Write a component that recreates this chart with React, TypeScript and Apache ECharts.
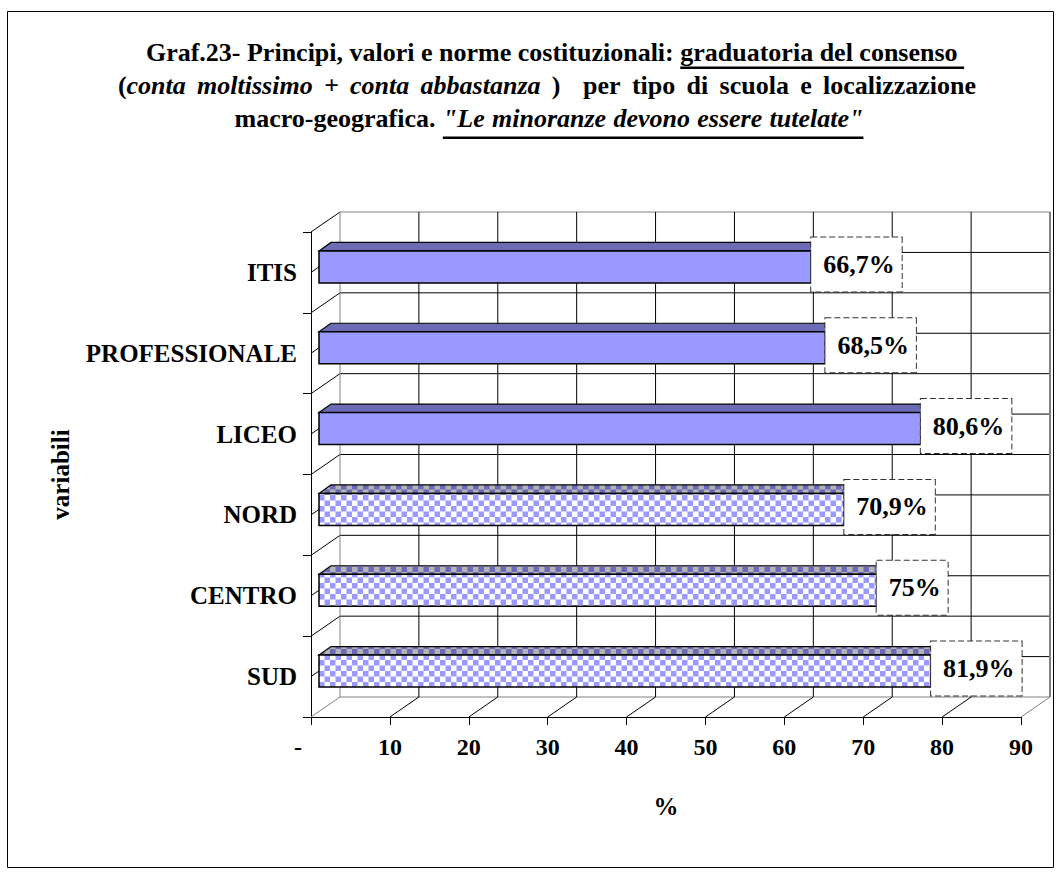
import React, { useEffect, useRef } from 'react';
import * as echarts from 'echarts';

// ---------- data ----------
const categories = ['ITIS', 'PROFESSIONALE', 'LICEO', 'NORD', 'CENTRO', 'SUD'];
const values = [66.7, 68.5, 80.6, 70.9, 75, 81.9];
const groups = ['scuola', 'scuola', 'scuola', 'area', 'area', 'area'];
const xTicks = [0, 10, 20, 30, 40, 50, 60, 70, 80, 90];
const xTickLabels = ['-', '10', '20', '30', '40', '50', '60', '70', '80', '90'];
const xAxisTitle = '%';
const yAxisTitle = 'variabili';

type Seg = { t: string; italic?: boolean; underline?: boolean };
const titleLines: Seg[][] = [
  [
    { t: 'Graf.23- Principi, valori e norme costituzionali: ' },
    { t: 'graduatoria del consenso ', underline: true },
  ],
  [
    { t: '(' },
    { t: 'conta moltissimo + conta abbastanza', italic: true },
    { t: ' )' },
    { t: '  per tipo di scuola e localizzazione' },
  ],
  [
    { t: 'macro-geografica. ' },
    { t: '"Le minoranze devono essere tutelate"', italic: true, underline: true },
  ],
];

// ---------- style ----------
const SERIF = '"Liberation Serif", "Times New Roman", Times, serif';
const SOLID_FRONT = '#9999FF';
const SOLID_TOP = '#6C6CB6';
const CHECK_FRONT = ['#9999FF', '#FFFFFF'];
const CHECK_TOP = ['#6A6AB8', '#B4B4B4'];
const WALL_GRAY = '#808080';
const DEPTH = { dx: 29, dy: -20 };
const BAR = { x0: 8, endShift: -26, dy: -5.5, ratio: 0.396, topDx: 12, topDy: -8.5 };
const TITLE_FS = 26;
const TITLE_CX = [555, 547, 549];
const TITLE_BASELINES = [61, 94, 127];
const TITLE_UNDERLINE_GAP = [5.5, 8, 9.5];
const TITLE_SPACE_EXTRA = [0, 4.8, 0.8];

function makeChecker(c1: string, c2: string, cell: number) {
  const px = 4; // canvas oversampling
  const cv = document.createElement('canvas');
  cv.width = cell * 2 * px;
  cv.height = cell * 2 * px;
  const g = cv.getContext('2d')!;
  const s = cell * px;
  g.fillStyle = c2;
  g.fillRect(0, 0, s * 2, s * 2);
  g.fillStyle = c1;
  g.fillRect(0, 0, s, s);
  g.fillRect(s, s, s, s);
  return { image: cv, repeat: 'repeat', imageWidth: cell * 2, imageHeight: cell * 2 };
}

function formatPct(v: number) {
  return (Number.isInteger(v) ? String(v) : v.toFixed(1).replace('.', ',')) + '%';
}

function buildTitle(): any[] {
  const ctx = document.createElement('canvas').getContext('2d')!;
  const fontOf = (it?: boolean) => `${it ? 'italic ' : ''}bold ${TITLE_FS}px ${SERIF}`;
  const els: any[] = [];
  titleLines.forEach((line, li) => {
    const extra = TITLE_SPACE_EXTRA[li];
    const layout = (startX: number, emit: boolean) => {
      let x = startX;
      const base = TITLE_BASELINES[li];
      const yMid = base - 0.3375 * TITLE_FS;
      line.forEach((s) => {
        ctx.font = fontOf(s.italic);
        const segStart = x;
        const spaceW = ctx.measureText(' ').width + extra;
        s.t.split(' ').forEach((word, wi) => {
          if (wi > 0) x += spaceW;
          if (!word) return;
          if (emit) {
            els.push({
              type: 'text',
              silent: true,
              style: {
                text: word,
                x,
                y: yMid,
                fontFamily: SERIF,
                fontSize: TITLE_FS,
                fontWeight: 'bold',
                fontStyle: s.italic ? 'italic' : 'normal',
                fill: '#000',
                align: 'left',
                verticalAlign: 'middle',
                textAlign: 'left',
                textVerticalAlign: 'middle',
              },
            });
          }
          x += ctx.measureText(word).width;
        });
        if (emit && s.underline) {
          els.push({
            type: 'rect',
            silent: true,
            shape: { x: segStart, y: base + TITLE_UNDERLINE_GAP[li], width: x - segStart, height: 2.5 },
            style: { fill: '#000' },
          });
        }
      });
      return x - startX;
    };
    const total = layout(0, false);
    layout(TITLE_CX[li] - total / 2, true);
  });
  return els;
}

export default function App() {
  const ref = useRef<HTMLDivElement>(null);
  useEffect(() => {
    const chart = echarts.init(ref.current!, null, { renderer: 'svg' });
    const checkFront = makeChecker(CHECK_FRONT[0], CHECK_FRONT[1], 5.5);
    const checkTop = makeChecker(CHECK_TOP[0], CHECK_TOP[1], 5.5);

    const renderFrame = (_params: any, api: any) => {
      const band = api.size([0, 1])[1];
      const n = categories.length;
      const first = api.coord([0, 0]);
      const yTop = first[1] - band / 2;
      const yBot = yTop + band * n;
      const xL = api.coord([xTicks[0], 0])[0];
      const xR = api.coord([xTicks[xTicks.length - 1], 0])[0];
      const { dx, dy } = DEPTH;
      const kids: any[] = [];
      const ln = (x1: number, y1: number, x2: number, y2: number, stroke: string, lw = 1) =>
        kids.push({ type: 'line', silent: true, shape: { x1, y1, x2, y2 }, style: { stroke, lineWidth: lw } });
      for (let k = 0; k <= 2 * n; k++) {
        const y = yTop + (k * band) / 2;
        const edge = k === 0 || k === 2 * n;
        ln(xL + dx, y + dy, xR + dx, y + dy, edge ? WALL_GRAY : '#000');
        if (k < 2 * n) ln(xL, y, xL + dx, y + dy, '#000');
      }
      xTicks.forEach((v, i) => {
        const x = api.coord([v, 0])[0];
        const last = i === xTicks.length - 1;
        const edge = i === 0 || last;
        ln(x + dx, yTop + dy, x + dx, yBot + dy, edge ? WALL_GRAY : '#000', last ? 2 : 1);
        ln(x, yBot, x + dx, yBot + dy, edge ? WALL_GRAY : '#000');
      });
      return { type: 'group', children: kids };
    };

    const renderBar = (params: any, api: any) => {
      const idx = params.dataIndex;
      const v = api.value(0);
      const c = api.value(1);
      const p0 = api.coord([0, c]);
      const p1 = api.coord([v, c]);
      const band = api.size([0, 1])[1];
      const h = band * BAR.ratio;
      const xs = p0[0] + BAR.x0;
      const xe = p1[0] + BAR.endShift;
      const cy = p0[1] + BAR.dy;
      const top = cy - h / 2;
      const pat = groups[idx] === 'area';
      return {
        type: 'group',
        children: [
          {
            type: 'polygon',
            shape: {
              points: [
                [xs, top],
                [xs + BAR.topDx, top + BAR.topDy],
                [xe + BAR.topDx, top + BAR.topDy],
                [xe, top],
              ],
            },
            style: { fill: pat ? checkTop : SOLID_TOP, stroke: '#000', lineWidth: 1.2 },
          },
          {
            type: 'rect',
            shape: { x: xs, y: top, width: xe - xs, height: h },
            style: { fill: pat ? checkFront : SOLID_FRONT, stroke: '#000', lineWidth: 1.5 },
          },
          {
            type: 'text',
            style: {
              text: formatPct(values[idx]),
              x: xe,
              y: cy - 2.5,
              fontFamily: SERIF,
              fontSize: 26,
              fontWeight: 'bold',
              fill: '#000',
              align: 'left',
              verticalAlign: 'middle',
              textAlign: 'left',
              textVerticalAlign: 'middle',
              backgroundColor: '#fff',
              borderColor: '#333',
              borderWidth: 1,
              borderDash: [6, 3],
              padding: [14, 7, 14, 12],
            },
          },
        ],
      };
    };

    const axisText = { color: '#000', fontWeight: 'bold' as const, fontFamily: SERIF };

    chart.setOption({
      animation: false,
      backgroundColor: '#fff',
      grid: { left: 311, top: 232, width: 710, height: 485, containLabel: false },
      xAxis: {
        type: 'value',
        min: 0,
        max: 90,
        interval: 10,
        axisLine: { show: true, onZero: false, lineStyle: { color: '#000', width: 1 } },
        axisTick: { show: true, length: 8, lineStyle: { color: '#000' } },
        splitLine: { show: false },
        axisLabel: {
          ...axisText,
          fontSize: 24,
          margin: 18,
          formatter: (val: number) => {
            const i = xTicks.indexOf(val);
            const s = i >= 0 ? xTickLabels[i] : String(val);
            return i === 0 ? `{z|${s}}` : s;
          },
          rich: { z: { ...axisText, fontSize: 24, padding: [0, 26, 0, 0] } },
        },
        name: xAxisTitle,
        nameLocation: 'middle',
        nameGap: 77,
        nameTextStyle: { ...axisText, fontSize: 25 },
      },
      yAxis: {
        type: 'category',
        data: categories,
        inverse: true,
        axisLine: { show: true, onZero: false, lineStyle: { color: '#000', width: 1 } },
        axisTick: { show: true, length: 8, lineStyle: { color: '#000' } },
        axisLabel: { ...axisText, fontSize: 25, margin: 14 },
        splitLine: { show: false },
        name: yAxisTitle,
        nameLocation: 'middle',
        nameGap: 238,
        nameRotate: 90,
        nameTextStyle: { ...axisText, fontSize: 25 },
      },
      graphic: [
        {
          type: 'rect',
          silent: true,
          z: -10,
          shape: { x: 7.5, y: 11.5, width: 1046, height: 856 },
          style: { fill: 'transparent', stroke: '#000', lineWidth: 1 },
        },
        ...buildTitle(),
      ],
      series: [
        {
          type: 'custom',
          name: 'frame',
          silent: true,
          clip: false,
          z: 1,
          renderItem: renderFrame,
          encode: { x: 0, y: 1 },
          data: [[0, 0]],
        },
        {
          type: 'custom',
          name: 'consenso',
          silent: true,
          clip: false,
          z: 3,
          renderItem: renderBar,
          encode: { x: 0, y: 1 },
          data: values.map((v, i) => [v, i]),
        },
      ],
    });
    return () => chart.dispose();
  }, []);
  return (
    <div
      ref={ref}
      style={{ position: 'absolute', left: 0, top: 0, width: 1061, height: 876, background: '#fff' }}
    />
  );
}
